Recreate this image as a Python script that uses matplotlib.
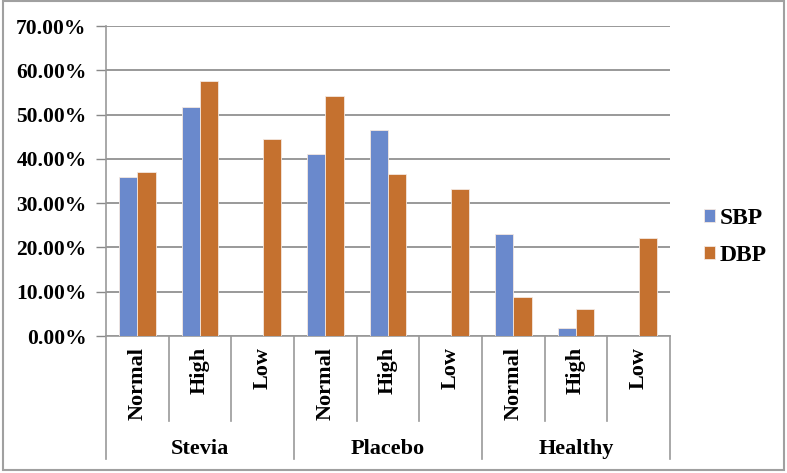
import matplotlib
matplotlib.use("Agg")
import matplotlib.pyplot as plt
import matplotlib.transforms as mtransforms
from matplotlib.patches import Rectangle
from matplotlib.ticker import FuncFormatter
import numpy as np

groups = ["Stevia", "Placebo", "Healthy"]
levels = ["Normal", "High", "Low"]
series = ["SBP", "DBP"]
sbp = [35.9, 51.7, 0.0, 41.0, 46.6, 0.0, 23.1, 1.8, 0.0]
dbp = [37.0, 57.6, 44.4, 54.3, 36.5, 33.3, 8.7, 6.1, 22.2]
colors = ["#6A89CC", "#C5712F"]

plt.rcParams['font.family'] = ['Liberation Serif', 'DejaVu Serif']
plt.rcParams['font.weight'] = 'bold'

fig = plt.figure(figsize=(7.87, 4.73), dpi=100)
ax = fig.add_axes([106/787, 1-336/473, (670-106)/787, (336-26)/473])

n = len(groups) * len(levels)
x = np.arange(n)
w = 0.29
ax.bar(x - w/2, sbp, w, color=colors[0], edgecolor='#f4e8e0', linewidth=0.6, label=series[0], zorder=3)
ax.bar(x + w/2, dbp, w, color=colors[1], edgecolor='#f4e8e0', linewidth=0.6, label=series[1], zorder=3)

ax.set_xlim(-0.5, n - 0.5)
ax.set_ylim(0, 70)
ax.set_yticks(np.arange(0, 71, 10))
ax.yaxis.set_major_formatter(FuncFormatter(lambda v, p: f"{v:.2f}%"))
ax.tick_params(axis='y', length=7, width=1, color='#888888', labelsize=15.5, pad=7)
for t in ax.get_yticklabels():
    t.set_fontweight('bold')
ax.yaxis.grid(True, color='#888888', linewidth=1.2, zorder=0)
ax.set_xticks([])
for s in ['top', 'right']:
    ax.spines[s].set_visible(False)
ax.spines['left'].set_color('#999999')
ax.spines['bottom'].set_color('#999999')
ax.spines['left'].set_linewidth(1.2)
ax.spines['bottom'].set_linewidth(1.2)

trans = mtransforms.blended_transform_factory(ax.transData, ax.transAxes)
inner_len = 85 / 310
outer_len = 123 / 310
for i in range(n + 1):
    xb = i - 0.5
    length = outer_len if i % len(levels) == 0 else inner_len
    ax.plot([xb, xb], [0, -length], transform=trans, color='#999999', lw=1.2, clip_on=False)
for i in range(n):
    ax.text(x[i], -11/310, levels[i % len(levels)], transform=trans, rotation=90,
            ha='center', va='top', fontsize=16, fontweight='bold')
for g, name in enumerate(groups):
    cx = g * len(levels) + (len(levels) - 1) / 2
    ax.text(cx, -113/310, name, transform=trans, ha='center', va='center',
            fontsize=16, fontweight='bold')

leg = fig.legend(loc='center left', bbox_to_anchor=(704/787, 1-237/473), frameon=False,
                 borderpad=0, borderaxespad=0,
                 handlelength=0.45, handleheight=0.45, handletextpad=0.22,
                 labelspacing=0.68, prop={'weight': 'bold', 'size': 17})

fig.patches.append(Rectangle((3/787, 3/473), 781/787, 469/473, transform=fig.transFigure,
                             fill=False, edgecolor='#a0a0a0', linewidth=1.5))

fig.savefig("out.png", dpi=100)
